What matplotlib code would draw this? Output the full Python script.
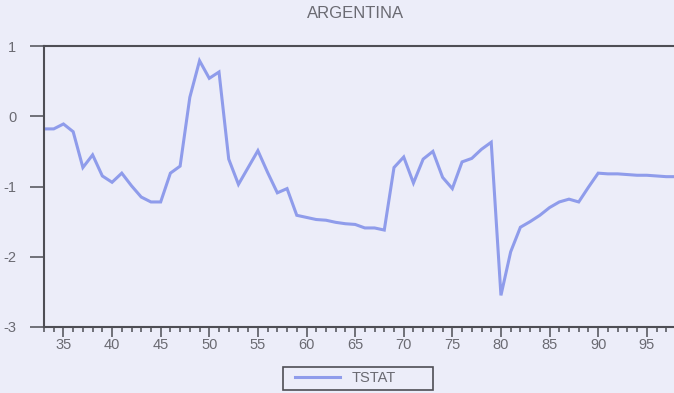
import matplotlib
matplotlib.use("Agg")
import matplotlib.pyplot as plt
from matplotlib.patches import Rectangle
from matplotlib.ticker import MultipleLocator, FuncFormatter

# t-statistic series, one value per year (1933-1998)
years = list(range(1933, 1999))
tstat = [
    -0.18, -0.18, -0.11, -0.22, -0.73, -0.55, -0.85, -0.94, -0.81, -0.99,
    -1.15, -1.22, -1.22, -0.81, -0.71, 0.27, 0.79, 0.54, 0.63, -0.61,
    -0.97, -0.73, -0.49, -0.80, -1.09, -1.03, -1.41, -1.44, -1.47, -1.48,
    -1.51, -1.53, -1.54, -1.59, -1.59, -1.62, -0.73, -0.58, -0.95, -0.61,
    -0.50, -0.87, -1.03, -0.65, -0.60, -0.47, -0.37, -2.55, -1.93, -1.58,
    -1.50, -1.41, -1.30, -1.22, -1.18, -1.22, -1.01, -0.81, -0.82, -0.82,
    -0.83, -0.84, -0.84, -0.85, -0.86, -0.86,
]
series_name = "TSTAT"
title = "ARGENTINA"

bg = "#ecedf9"
line_col = "#8f9ceb"
frame_col = "#4e4e55"
text_col = "#6a6a72"

plt.rcParams["font.family"] = ["Liberation Sans", "DejaVu Sans"]
plt.rcParams["axes.unicode_minus"] = False

W, H = 674, 393
fig = plt.figure(figsize=(W / 100, H / 100), dpi=100, facecolor=bg)
ax = fig.add_axes([44 / W, 66 / H, 1 - 44 / W, 281 / H])
ax.set_facecolor(bg)

ax.plot(years, tstat, color=line_col, lw=2.2, solid_joinstyle="miter",
        label=series_name)

ax.set_xlim(1933, 1997.8)
ax.set_ylim(-3, 1)

ax.xaxis.set_major_locator(MultipleLocator(5))
ax.xaxis.set_minor_locator(MultipleLocator(1))
ax.xaxis.set_major_formatter(FuncFormatter(lambda v, p: f"{int(v) % 100:02d}"))
ax.yaxis.set_major_locator(MultipleLocator(1))

ax.tick_params(axis="x", which="major", direction="out", length=7, width=1.1,
               color=frame_col, labelsize=10.5, labelcolor=text_col, pad=1)
ax.tick_params(axis="x", which="minor", direction="out", length=3.5, width=1.1,
               color=frame_col)
ax.tick_params(axis="y", which="major", direction="out", length=10, width=1.1,
               color=frame_col, labelsize=10.5, labelcolor=text_col, pad=10)

for side in ("left", "bottom", "top"):
    ax.spines[side].set_color(frame_col)
    ax.spines[side].set_linewidth(1.5)
ax.spines["right"].set_visible(False)

fig.text(356 / W, 1 - 13 / H, title, ha="center", va="center",
         fontsize=12, color=text_col)

# legend entry plus a wide rectangular box around it
leg_y = 1 - 378.5 / H
leg = fig.legend(loc="center left", bbox_to_anchor=(295 / W, leg_y),
                 fontsize=10.5, frameon=False, handlelength=3.1,
                 borderpad=0, handletextpad=0.8, borderaxespad=0)
for t in leg.get_texts():
    t.set_color(text_col)
fig.patches.append(Rectangle((283 / W, 1 - 390 / H), 150 / W, 23 / H,
                             transform=fig.transFigure, fill=False,
                             edgecolor=frame_col, linewidth=1.2))

fig.savefig("out.png", dpi=100, facecolor=bg)
